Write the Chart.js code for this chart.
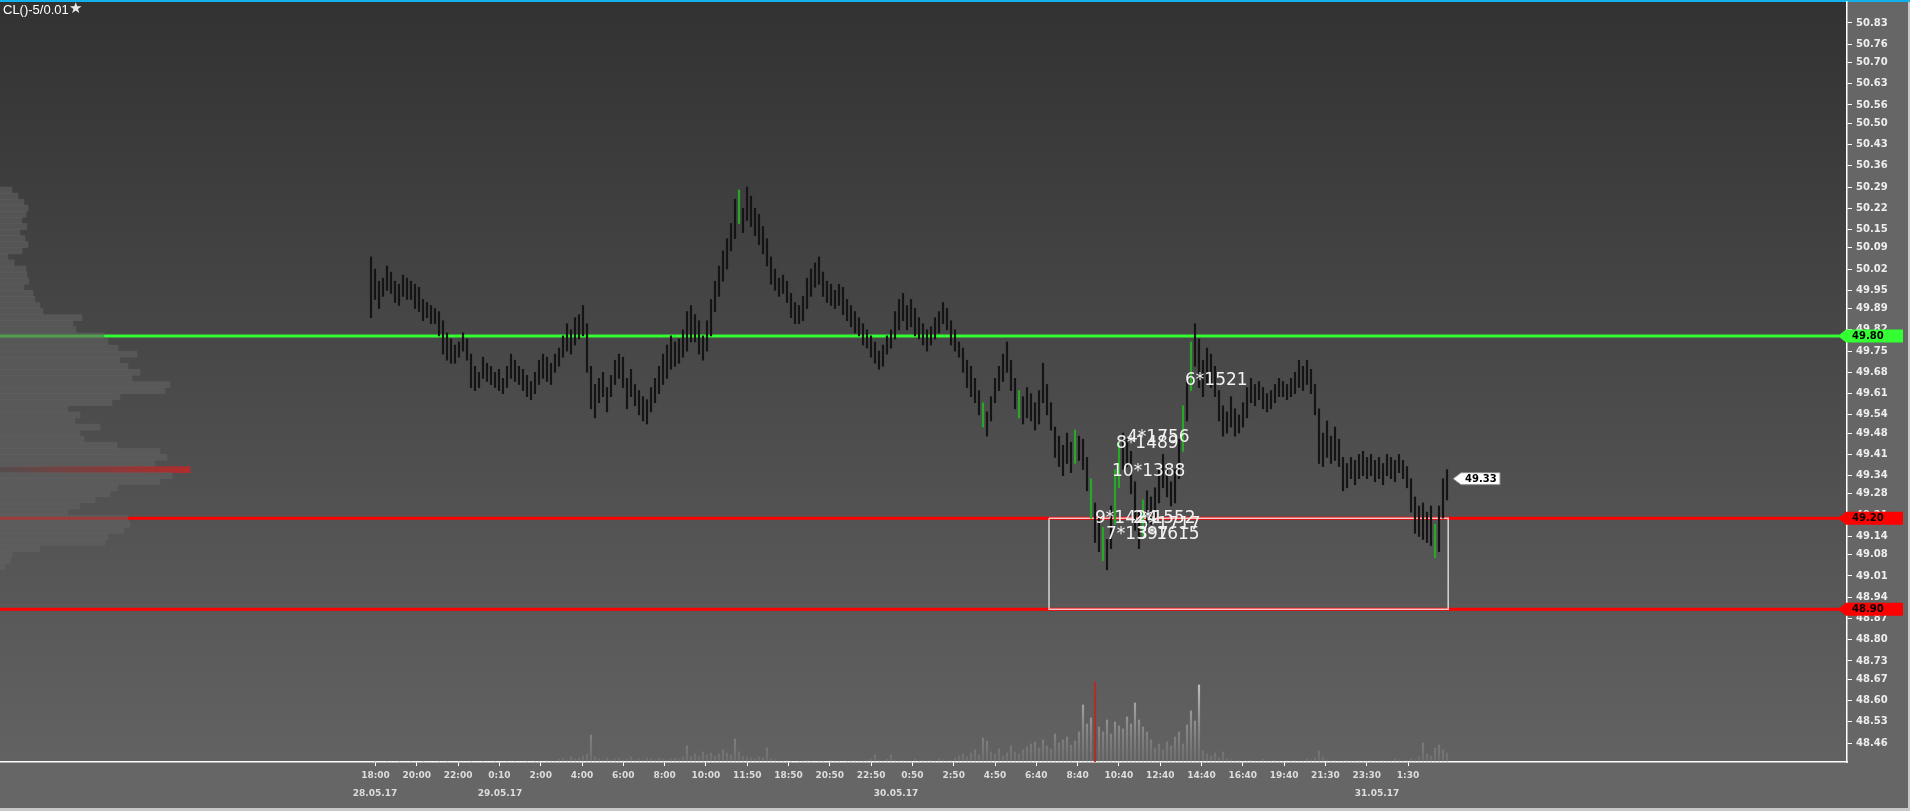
<!DOCTYPE html>
<html>
<head>
<meta charset="utf-8">
<script src="https://cdn.jsdelivr.net/npm/chart.js@4.4.1/dist/chart.umd.min.js"></script>
<style>
html, body { margin: 0; padding: 0; background: #666; overflow: hidden; }
#wrap { position: relative; width: 1910px; height: 811px; }
#wrap canvas { position: absolute; left: 0; top: 0; }
</style>
</head>
<body>
<div id="wrap">
  <canvas id="main" width="1910" height="811"></canvas>
  <canvas id="prof" width="1910" height="811"></canvas>
</div>
<script>
// bar highs / lows (one bar = 10 min)
const highs = [
  50.06,50.02,49.98,49.99,50.03,50.01,49.98,49.97,50.00,49.99,
  49.98,49.97,49.96,49.92,49.91,49.90,49.89,49.88,49.85,49.81,
  49.79,49.77,49.78,49.81,49.79,49.74,49.70,49.68,49.73,49.71,
  49.70,49.68,49.69,49.66,49.70,49.74,49.72,49.70,49.69,49.67,
  49.65,49.68,49.72,49.74,49.73,49.71,49.74,49.76,49.80,49.84,
  49.82,49.86,49.87,49.90,49.84,49.70,49.64,49.66,49.68,49.63,
  49.67,49.72,49.74,49.73,49.66,49.69,49.64,49.62,49.60,49.59,
  49.63,49.66,49.70,49.74,49.77,49.80,49.78,49.79,49.82,49.88,
  49.90,49.87,49.85,49.80,49.85,49.92,49.98,50.03,50.08,50.12,
  50.17,50.25,50.28,50.22,50.29,50.26,50.22,50.20,50.16,50.12,
  50.06,50.02,49.99,50.00,49.98,49.94,49.91,49.90,49.93,49.99,
  50.02,50.04,50.06,50.01,49.98,49.97,49.95,49.97,49.96,49.92,
  49.90,49.88,49.86,49.84,49.82,49.80,49.78,49.75,49.77,49.80,
  49.82,49.88,49.92,49.94,49.90,49.92,49.89,49.86,49.84,49.82,
  49.83,49.86,49.88,49.91,49.89,49.85,49.82,49.78,49.76,49.72,
  49.70,49.66,49.62,49.58,49.55,49.60,49.66,49.70,49.74,49.78,
  49.72,49.66,49.62,49.60,49.63,49.61,49.58,49.62,49.71,49.64,
  49.58,49.50,49.47,49.44,49.48,49.45,49.49,49.47,49.46,49.40,
  49.33,49.25,49.20,49.17,49.13,49.24,49.36,49.45,49.48,49.46,
  49.42,49.32,49.22,49.26,49.29,49.27,49.30,49.36,49.41,49.38,
  49.32,49.36,49.46,49.57,49.66,49.78,49.84,49.79,49.72,49.76,
  49.74,49.70,49.62,49.57,49.55,49.60,49.56,49.54,49.58,49.63,
  49.66,49.64,49.65,49.63,49.61,49.62,49.64,49.66,49.65,49.64,
  49.66,49.68,49.72,49.70,49.72,49.69,49.64,49.56,49.48,49.52,
  49.47,49.50,49.46,49.40,49.38,49.40,49.39,49.41,49.42,49.40,
  49.41,49.39,49.40,49.38,49.41,49.40,49.39,49.41,49.39,49.37,
  49.33,49.27,49.24,49.25,49.22,49.24,49.18,49.24,49.33,49.36
];
const lows = [
  49.86,49.92,49.89,49.93,49.95,49.94,49.91,49.90,49.93,49.92,
  49.92,49.89,49.88,49.85,49.86,49.84,49.84,49.80,49.74,49.72,
  49.71,49.71,49.73,49.75,49.72,49.63,49.62,49.63,49.66,49.65,
  49.64,49.63,49.62,49.61,49.63,49.66,49.65,49.64,49.62,49.60,
  49.59,49.61,49.64,49.66,49.65,49.64,49.68,49.70,49.73,49.75,
  49.74,49.77,49.79,49.80,49.68,49.56,49.53,49.58,49.60,49.55,
  49.60,49.64,49.66,49.63,49.56,49.60,49.57,49.54,49.52,49.51,
  49.55,49.58,49.61,49.64,49.66,49.69,49.70,49.71,49.73,49.75,
  49.78,49.78,49.74,49.72,49.75,49.80,49.88,49.93,49.98,50.02,
  50.08,50.12,50.17,50.14,50.18,50.16,50.13,50.10,50.07,50.03,
  49.97,49.95,49.93,49.94,49.91,49.86,49.84,49.84,49.85,49.89,
  49.93,49.96,49.97,49.93,49.91,49.90,49.89,49.90,49.87,49.85,
  49.83,49.81,49.80,49.77,49.76,49.73,49.71,49.69,49.70,49.74,
  49.76,49.79,49.82,49.85,49.82,49.83,49.80,49.79,49.77,49.75,
  49.77,49.79,49.81,49.84,49.82,49.77,49.75,49.73,49.68,49.63,
  49.60,49.58,49.54,49.50,49.47,49.52,49.58,49.62,49.65,49.68,
  49.62,49.56,49.53,49.51,49.53,49.52,49.49,49.51,49.58,49.54,
  49.49,49.40,49.37,49.34,49.38,49.35,49.38,49.39,49.36,49.29,
  49.20,49.12,49.09,49.06,49.03,49.10,49.18,49.30,49.36,49.37,
  49.28,49.16,49.10,49.14,49.17,49.18,49.20,49.25,49.30,49.27,
  49.24,49.25,49.33,49.42,49.52,49.62,49.70,49.63,49.60,49.64,
  49.63,49.60,49.52,49.47,49.48,49.50,49.47,49.48,49.50,49.53,
  49.58,49.57,49.59,49.56,49.55,49.56,49.58,49.60,49.60,49.59,
  49.60,49.61,49.63,49.62,49.64,49.61,49.54,49.38,49.37,49.40,
  49.38,49.39,49.37,49.29,49.30,49.33,49.31,49.33,49.34,49.33,
  49.34,49.32,49.33,49.31,49.34,49.33,49.32,49.35,49.33,49.30,
  49.22,49.15,49.14,49.13,49.12,49.11,49.07,49.09,49.20,49.26
];
// volume per bar, hundreds of lots
const volume = [
  0,1,0,0,1,0,0,1,0,0,  1,0,0,1,0,0,0,1,0,1,  0,0,1,0,0,1,0,0,1,0,
  0,1,0,0,1,0,1,0,0,1,  0,1,1,0,2,1,1,3,4,2,  5,3,4,6,8,27,5,3,2,4,
  2,3,4,2,3,5,2,3,2,4,  3,2,4,3,2,3,4,3,5,16,  6,8,5,10,7,9,6,8,12,9,
  7,23,10,6,5,4,3,5,4,14,  3,2,1,1,2,1,0,1,1,2,  1,0,1,1,0,2,1,1,0,1,
  1,2,1,1,2,3,7,2,1,3,  7,2,1,2,1,1,3,1,2,1,  2,1,3,2,1,2,4,6,8,5,
  9,12,7,24,21,10,8,13,6,9,  16,10,8,12,15,18,20,14,22,16,  13,28,19,22,25,17,21,30,57,38,
  44,80,35,30,42,28,40,36,33,45,  38,59,42,35,30,22,14,18,12,20,  16,25,30,18,37,51,41,77,11,8,
  6,9,4,10,3,2,1,2,1,1,  2,1,1,3,1,1,2,1,1,2,  1,2,1,1,3,2,4,11,5,2,
  1,2,1,1,2,1,1,2,1,1,  2,1,1,2,1,1,3,2,1,2,  3,2,5,19,8,6,14,17,12,9
];
const signalBars = [92, 153, 162, 176, 180, 183, 186, 187, 193, 203, 205, 266];

// volume profile (price level -> volume)
const profLevels = [
  50.28,50.26,50.24,50.22,50.20,50.18,50.16,50.14,50.12,50.10,50.08,50.06,50.04,50.02,50.00,
  49.98,49.96,49.94,49.92,49.90,49.88,49.86,49.84,49.82,49.80,49.78,49.76,49.74,49.72,49.70,
  49.68,49.66,49.64,49.62,49.60,49.58,49.56,49.54,49.52,49.50,49.48,49.46,49.44,49.42,49.40,
  49.38,49.36,49.34,49.32,49.30,49.28,49.26,49.24,49.22,49.20,49.18,49.16,49.14,49.12,49.10,
  49.08,49.06,49.04
];
const profVolume = [
  12,18,24,28,26,22,27,20,25,28,22,8,14,26,27,
  29,24,33,35,40,43,82,73,76,104,108,118,137,120,128,
  140,132,170,165,120,112,68,80,75,100,80,84,117,160,167,
  155,190,172,160,118,110,95,80,68,128,130,124,108,105,40,
  12,10,5
];

// levels, zone, labels
const levels = [49.80, 49.20, 48.90];
const levelColors = ['#33ff33', '#ff0000', '#ff0000'];
const zoneBars = [169.5, 269.3];
const zonePrices = [49.20, 48.90];
const noteText  = ['6*1521', '4*1756', '8*1489', '10*1388', '9*1424', '2*1552', '5*1717', '7*1397', '3*1615'];
const noteBar   = [203.5, 189, 186.25, 185.25, 181, 190.5, 191.75, 183.75, 191.5];
const notePrice = [49.652, 49.464, 49.444, 49.352, 49.20, 49.20, 49.18, 49.145, 49.145];

const yTicks = [48.46,48.53,48.60,48.67,48.73,48.80,48.87,48.94,49.01,49.08,49.14,49.21,49.28,49.34,
  49.41,49.48,49.54,49.61,49.68,49.75,49.82,49.89,49.95,50.02,50.09,50.15,50.22,50.29,50.36,50.43,
  50.50,50.56,50.63,50.70,50.76,50.83];
const xLabels = ['18:00','20:00','22:00','0:10','2:00','4:00','6:00','8:00','10:00','11:50','18:50','20:50',
  '22:50','0:50','2:50','4:50','6:40','8:40','10:40','12:40','14:40','16:40','19:40','21:30','23:30','1:30'];
const xLabelFirst = 1.125, xLabelLast = 259.25;
const dateLabels = ['28.05.17', '29.05.17', '30.05.17', '31.05.17'];
const dateBars = [1, 32.25, 131.25, 251.5];
const lastPrice = 49.33;

const yMin = 48.3975, yMax = 50.899;
const xMin = -92.75, xMax = 369;

const FONT = '"DejaVu Sans", Verdana, sans-serif';
const pocBar = volume.indexOf(Math.max(...volume));
const pocLevel = profVolume.indexOf(Math.max(...profVolume));

function drawTag(ctx, xTip, y, w, h, fill, stroke, text, textOff) {
  ctx.save();
  ctx.beginPath();
  ctx.moveTo(xTip, y);
  ctx.lineTo(xTip + 8, y - h / 2);
  ctx.lineTo(xTip + w, y - h / 2);
  ctx.lineTo(xTip + w, y + h / 2);
  ctx.lineTo(xTip + 8, y + h / 2);
  ctx.closePath();
  ctx.fillStyle = fill;
  ctx.fill();
  if (stroke) { ctx.strokeStyle = stroke; ctx.lineWidth = 1; ctx.stroke(); }
  ctx.fillStyle = '#000';
  ctx.font = 'bold 10px ' + FONT;
  ctx.textBaseline = 'middle';
  ctx.textAlign = 'left';
  ctx.fillText(text, xTip + textOff, y + 0.5);
  ctx.restore();
}

let volGrad = null;
const decor = {
  id: 'decor',
  beforeDraw(chart) {
    const { ctx, chartArea: a, width, height } = chart;
    ctx.save();
    ctx.fillStyle = '#666666';
    ctx.fillRect(0, 0, width, height);
    const g = ctx.createLinearGradient(0, a.top, 0, a.bottom);
    g.addColorStop(0, '#323232');
    g.addColorStop(1, '#626262');
    ctx.fillStyle = g;
    ctx.fillRect(a.left, a.top, a.right - a.left, a.bottom - a.top);
    ctx.fillStyle = '#0fb2ea';
    ctx.fillRect(0, 0, width, 2);
    ctx.restore();
  },
  afterDatasetsDraw(chart) {
    const { ctx } = chart;
    const xs = chart.scales.x, ys = chart.scales.y;
    ctx.save();
    ctx.font = '17px ' + FONT;
    ctx.fillStyle = '#f2f2f2';
    ctx.textBaseline = 'middle';
    ctx.textAlign = 'left';
    noteText.forEach((t, k) => {
      ctx.fillText(t, xs.getPixelForValue(noteBar[k]), ys.getPixelForValue(notePrice[k]));
    });
    ctx.restore();
  },
  afterDraw(chart) {
    const { ctx, chartArea: a, width, height } = chart;
    const xs = chart.scales.x, ys = chart.scales.y;
    ctx.save();
    // date row
    ctx.font = 'bold 9px ' + FONT;
    ctx.fillStyle = '#dddddd';
    ctx.textAlign = 'center';
    ctx.textBaseline = 'middle';
    dateLabels.forEach((d, k) => ctx.fillText(d, xs.getPixelForValue(dateBars[k]), a.bottom + 32));
    // price tags
    levels.forEach((lv, k) => drawTag(ctx, a.right - 9, ys.getPixelForValue(lv), 65, 13, levelColors[k], null, lv.toFixed(2), 14));
    drawTag(ctx, xs.getPixelForValue(highs.length - 1) + 6, ys.getPixelForValue(lastPrice), 47, 12, '#ffffff', '#8a8a8a', lastPrice.toFixed(2), 12);
    // title
    ctx.font = '13px "Liberation Sans", Arial, sans-serif';
    ctx.fillStyle = '#ffffff';
    ctx.textAlign = 'left';
    ctx.textBaseline = 'middle';
    ctx.fillText('CL()-5/0.01', 3, 10);
    ctx.font = '15px "DejaVu Sans", sans-serif';
    ctx.fillStyle = '#e8e8e8';
    ctx.fillText('★', 3 + 66, 9);
    // window edges
    ctx.fillStyle = '#c8c8c8';
    ctx.fillRect(0, height - 3, width, 3);
    ctx.fillRect(width - 2, 2, 2, height);
    ctx.restore();
  }
};

const barData = highs.map((h, i) => ({ x: i, y: [lows[i], h] }));
const volData = volume.map((v, i) => ({ x: i, y: v }));
const levelSets = levels.map((lv, k) => ({
  type: 'line',
  data: [{ x: xMin, y: lv }, { x: xMax, y: lv }],
  borderColor: levelColors[k],
  borderWidth: 3,
  pointRadius: 0,
  order: 3
}));
const zoneSet = {
  type: 'line',
  data: [
    { x: zoneBars[0], y: zonePrices[0] }, { x: zoneBars[1], y: zonePrices[0] },
    { x: zoneBars[1], y: zonePrices[1] }, { x: zoneBars[0], y: zonePrices[1] },
    { x: zoneBars[0], y: zonePrices[0] }
  ],
  borderColor: 'rgba(235,235,235,0.85)',
  borderWidth: 1.5,
  pointRadius: 0,
  order: 2
};

new Chart(document.getElementById('main'), {
  type: 'bar',
  data: {
    datasets: [
      {
        label: 'Volume',
        data: volData,
        yAxisID: 'yv',
        grouped: false,
        barThickness: 1.5,
        order: 5,
        backgroundColor(c) {
          if (c.dataIndex === pocBar) return 'rgba(185,40,40,0.9)';
          const a = c.chart.chartArea;
          if (!a) return '#999';
          if (!volGrad) {
            volGrad = c.chart.ctx.createLinearGradient(0, a.bottom - 80, 0, a.bottom);
            volGrad.addColorStop(0, 'rgba(220,220,220,0.8)');
            volGrad.addColorStop(1, 'rgba(140,140,140,0.3)');
          }
          return volGrad;
        }
      },
      ...levelSets,
      zoneSet,
      {
        label: 'CL',
        data: barData,
        yAxisID: 'y',
        grouped: false,
        barThickness: 1.5,
        order: 1,
        backgroundColor: (c) => signalBars.includes(c.dataIndex) ? '#27a827' : '#141414'
      }
    ]
  },
  options: {
    responsive: false,
    animation: false,
    devicePixelRatio: 1,
    layout: { padding: { top: 2, left: 0, right: 0, bottom: 0 } },
    plugins: { legend: { display: false }, tooltip: { enabled: false } },
    scales: {
      x: {
        type: 'linear',
        min: xMin, max: xMax,
        offset: false,
        afterBuildTicks(s) {
          const step = (xLabelLast - xLabelFirst) / (xLabels.length - 1);
          s.ticks = xLabels.map((_, k) => ({ value: xLabelFirst + k * step }));
        },
        afterFit(s) { s.height = 49; s.paddingLeft = 0; s.paddingRight = 0; },
        ticks: {
          autoSkip: false, maxRotation: 0, minRotation: 0, padding: 4,
          color: '#dddddd', font: { family: FONT, weight: 'bold', size: 9 },
          callback: (v, i) => xLabels[i]
        },
        grid: { offset: false, drawOnChartArea: false, color: '#ffffff', tickColor: '#ffffff', tickLength: 4 },
        border: { color: '#ffffff', width: 1.5 }
      },
      y: {
        type: 'linear',
        position: 'right',
        min: yMin, max: yMax,
        afterBuildTicks(s) { s.ticks = yTicks.map(v => ({ value: v })); },
        afterFit(s) { s.width = 63; s.paddingTop = 0; s.paddingBottom = 0; },
        ticks: {
          padding: 4, color: '#eeeeee', font: { family: FONT, weight: 'bold', size: 10 },
          callback: (v) => Number(v).toFixed(2)
        },
        grid: { drawOnChartArea: false, color: '#ffffff', tickColor: '#ffffff', tickLength: 5 },
        border: { color: '#ffffff', width: 1.5 }
      },
      yv: { type: 'linear', display: false, min: 0, max: 760 }
    }
  },
  plugins: [decor]
});

// volume profile on the left, drawn over the price lines
new Chart(document.getElementById('prof'), {
  type: 'bar',
  data: {
    datasets: [{
      label: 'Profile',
      data: profLevels.map((p, k) => ({ x: profVolume[k], y: p })),
      indexAxis: 'y',
      barThickness: 6.1,
      backgroundColor(c) {
        if (c.dataIndex !== pocLevel) return 'rgba(98,98,98,0.6)';
        const xs = c.chart.scales.x;
        if (!xs) return 'rgba(180,40,40,0.8)';
        const g = c.chart.ctx.createLinearGradient(xs.getPixelForValue(0), 0, xs.getPixelForValue(profVolume[pocLevel]), 0);
        g.addColorStop(0, 'rgba(180,40,40,0.05)');
        g.addColorStop(1, 'rgba(190,40,40,0.9)');
        return g;
      }
    }]
  },
  options: {
    indexAxis: 'y',
    responsive: false,
    animation: false,
    devicePixelRatio: 1,
    layout: { padding: { top: 2, left: 0, right: 63, bottom: 49 } },
    plugins: { legend: { display: false }, tooltip: { enabled: false } },
    scales: {
      x: { type: 'linear', display: false, min: 0, max: 1847 },
      y: { type: 'linear', display: false, min: yMin, max: yMax, offset: false, grid: { offset: false } }
    }
  }
});
</script>
</body>
</html>
